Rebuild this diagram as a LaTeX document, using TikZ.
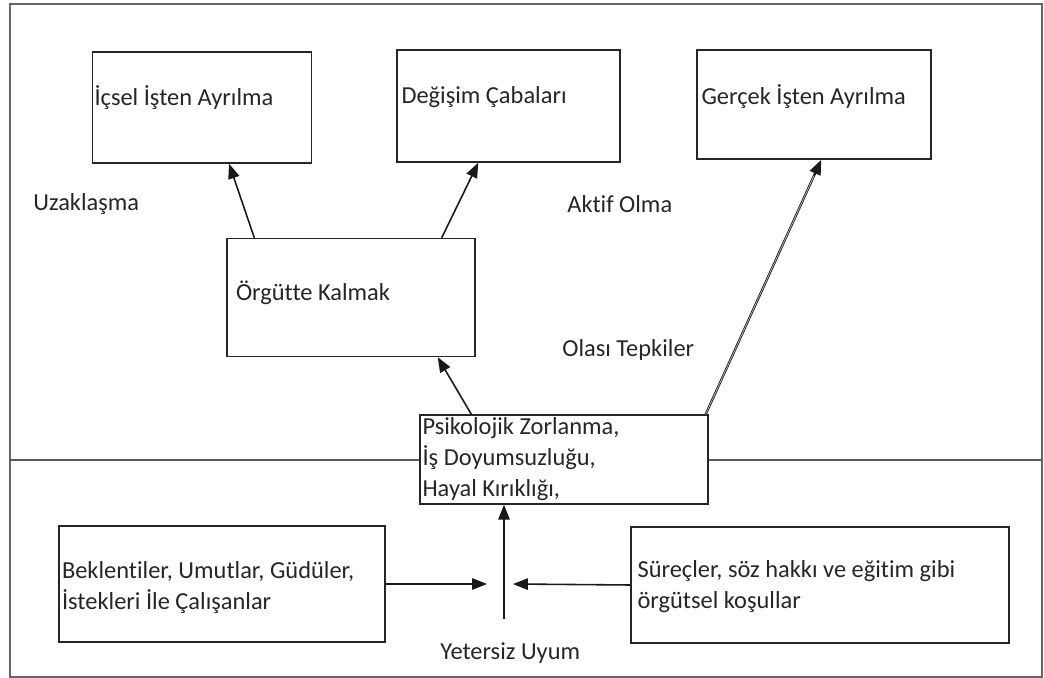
\documentclass[tikz,border=0pt]{standalone}
\usepackage{fontspec}
\setmainfont{Carlito}[Ligatures=NoCommon]
\usetikzlibrary{arrows.meta}

\begin{document}
\begin{tikzpicture}[x=0.02cm, y=-0.02cm,
  yazi/.style={font=\fontsize{13.9}{17.6}\selectfont, text=black!85},
  kutu/.style={yazi, draw=black!85, fill=white, line width=0.8pt, align=flush left, inner xsep=1pt, inner ysep=0pt},
  etiket/.style={yazi, anchor=west, inner sep=0pt},
  ok/.style={line width=0.9pt, black!90, -{Triangle[length=8.5pt,width=6.5pt]}}]
\useasboundingbox (0,0) rectangle (1044,678);
% cerceve ve ayirici cizgi
\draw [black!60, line width=0.9pt] (10,4) rectangle (1042,677);
\draw [black!65, line width=0.9pt] (10,460) -- (1042,460);
% ust kutular
\node [kutu, minimum width=4.36cm, minimum height=2.22cm, text width=4.3cm, text depth=0.48cm] (icsel) at (202,107.5) {İçsel İşten Ayrılma};
\node [kutu, minimum width=4.46cm, minimum height=2.24cm, text width=4.28cm, text depth=0.44cm] (degisim) at (508.5,106) {Değişim Çabaları};
\node [kutu, minimum width=4.68cm, minimum height=2.18cm, text width=4.5cm, text depth=0.38cm] (gercek) at (814,104.5) {Gerçek İşten Ayrılma};
\node [kutu, minimum width=4.96cm, minimum height=2.36cm, text width=4.6cm, text depth=0.28cm] (orgut) at (351,297.5) {Örgütte Kalmak};
\node [kutu, minimum width=5.76cm, minimum height=1.78cm, text width=5.66cm] (psiko) at (564,459.5) {Psikolojik Zorlanma,\\İş Doyumsuzluğu,\\Hayal Kırıklığı,};
% alt kutular
\node [kutu, minimum width=6.52cm, minimum height=2.32cm, text width=6.4cm, text depth=0.56cm] (bekl) at (222,584) {Beklentiler, Umutlar, Güdüler,\\İstekleri İle Çalışanlar};
\node [kutu, minimum width=7.56cm, minimum height=2.32cm, text width=7.3cm, text depth=0.62cm] (surec) at (820,585) {Süreçler, söz hakkı ve eğitim gibi\\örgütsel koşullar};
% etiketler
\node [etiket] (uzak) at (33,204) {Uzaklaşma};
\node [etiket] (aktif) at (567,204) {Aktif Olma};
\node [etiket] (olasi) at (562,350) {Olası Tepkiler};
\node [etiket] (yeter) at (440,653) {Yetersiz Uyum};
% oklar
\coordinate (kesisim) at (504,619);
\coordinate (soluc) at (487,584);
\coordinate (saguc) at (513,584);
\draw [ok] ([xshift=0.56cm]orgut.north west) -- ([xshift=2.74cm]icsel.south west);
\draw [ok] ([xshift=-0.68cm]orgut.north east) -- ([xshift=1.64cm]degisim.south west);
\draw [ok] ([xshift=1.04cm]psiko.north west) -- ([xshift=-0.76cm]orgut.south east);
\draw [ok, line width=1.3pt] ([xshift=-0.06cm]psiko.north east) -- ([xshift=2.5cm]gercek.south west);
\draw [white!80!black, line width=0.35pt, shorten >=10pt] ([xshift=-0.06cm]psiko.north east) -- ([xshift=2.5cm]gercek.south west);
\draw [ok] (kesisim) -- (kesisim |- psiko.south);
\draw [ok] (bekl.east) -- (soluc);
\draw [ok] (surec.west) -- (saguc);
\end{tikzpicture}
\end{document}
